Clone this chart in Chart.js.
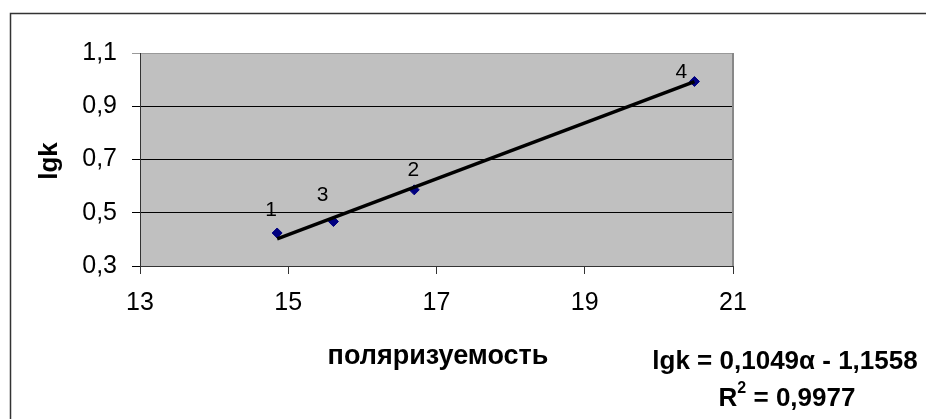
<!DOCTYPE html>
<html lang="ru">
  <head>
    <meta charset="UTF-8" />
    <title>lgk — поляризуемость</title>
    <script src="https://cdn.jsdelivr.net/npm/chart.js"></script>
    <style>
      html, body { margin: 0; padding: 0; background: #fff; }
      #wrap { width: 926px; height: 419px; }
    </style>
  </head>
  <body>
    <div id="wrap"><canvas id="chart" width="926" height="419"></canvas></div>

    <script>
      // данные
      const pointLabels = ["1", "2", "3", "4"];
      const polarizability = [14.85, 16.70, 15.61, 20.48];
      const lgk = [0.424, 0.586, 0.467, 0.993];
      const xTicks = [13, 15, 17, 19, 21];
      const yTicks = [0.3, 0.5, 0.7, 0.9, 1.1];

      // линия тренда: lgk = 0,1049α - 1,1558
      const slope = 0.1049;
      const intercept = -1.1558;
      const equationText = "lgk = 0,1049α - 1,1558";
      const r2Text = "0,9977";

      const FONT = "'Liberation Sans', Arial, sans-serif";

      const xMin = Math.min(...polarizability);
      const xMax = Math.max(...polarizability);
      const trend = [xMin, xMax].map((x) => ({ x: x, y: slope * x + intercept }));
      const points = polarizability.map((x, i) => ({ x: x, y: lgk[i] }));

      const comma = (v) => String(v).replace(".", ",");

      // фон, рамка, подписи точек и тексты
      const decor = {
        id: "decor",
        beforeDraw(chart) {
          const { ctx, chartArea: a } = chart;
          ctx.save();
          ctx.fillStyle = "#fff";
          ctx.fillRect(0, 0, chart.width, chart.height);
          ctx.strokeStyle = "#333";
          ctx.lineWidth = 1.5;
          ctx.strokeRect(10.5, 13.5, chart.width + 10, chart.height + 10);
          ctx.fillStyle = "#c0c0c0";
          ctx.fillRect(a.left, a.top, a.right - a.left, a.bottom - a.top);
          ctx.restore();
        },
        afterDatasetsDraw(chart) {
          const { ctx, chartArea: a } = chart;
          const xs = chart.scales.x, ys = chart.scales.y;
          ctx.save();
          // правая граница области построения
          ctx.strokeStyle = "#888";
          ctx.lineWidth = 2;
          ctx.beginPath();
          ctx.moveTo(a.right, a.top);
          ctx.lineTo(a.right, a.bottom);
          ctx.stroke();

          // номера точек
          const offsets = [[-6, -23], [-1, -20], [-11, -26], [-13, -9]];
          ctx.fillStyle = "#000";
          ctx.font = "21px " + FONT;
          ctx.textAlign = "center";
          ctx.textBaseline = "middle";
          pointLabels.forEach((t, i) => {
            const px = xs.getPixelForValue(polarizability[i]);
            const py = ys.getPixelForValue(lgk[i]);
            ctx.fillText(t, px + offsets[i][0], py + offsets[i][1]);
          });

          // подписи осей
          ctx.font = "bold 26px " + FONT;
          ctx.save();
          ctx.translate(50, 161);
          ctx.rotate(-Math.PI / 2);
          ctx.fillText("lgk", 0, 0);
          ctx.restore();
          ctx.font = "bold 27px " + FONT;
          ctx.fillText("поляризуемость", 438, 357);

          // уравнение тренда
          ctx.font = "bold 26px " + FONT;
          ctx.textBaseline = "alphabetic";
          ctx.fillText(equationText, 785, 369);

          const big = "bold 26px " + FONT, small = "bold 16px " + FONT;
          ctx.font = big;
          const wR = ctx.measureText("R").width;
          const rest = " = " + r2Text;
          const wRest = ctx.measureText(rest).width;
          ctx.font = small;
          const w2 = ctx.measureText("2").width;
          let x = 787 - (wR + w2 + wRest) / 2;
          ctx.textAlign = "left";
          ctx.font = big;
          ctx.fillText("R", x, 406);
          x += wR;
          ctx.font = small;
          ctx.fillText("2", x, 393);
          x += w2;
          ctx.font = big;
          ctx.fillText(rest, x, 406);
          ctx.restore();
        },
      };

      new Chart(document.getElementById("chart"), {
        type: "scatter",
        data: {
          datasets: [
            {
              type: "line",
              label: "тренд",
              data: trend,
              borderColor: "#000",
              borderWidth: 3.5,
              pointRadius: 0,
              fill: false,
              order: 0,
            },
            {
              label: "lgk",
              data: points,
              pointStyle: "rectRot",
              pointRadius: 5,
              pointBackgroundColor: "#000080",
              pointBorderColor: "#000080",
              pointBorderWidth: 1,
              order: 1,
            },
          ],
        },
        options: {
          responsive: false,
          animation: false,
          layout: { padding: { left: 0, top: 53, right: 193, bottom: 0 } },
          plugins: { legend: { display: false }, tooltip: { enabled: false } },
          scales: {
            x: {
              type: "linear",
              min: xTicks[0],
              max: xTicks[xTicks.length - 1],
              afterBuildTicks(s) { s.ticks = xTicks.map((v) => ({ value: v })); },
              afterFit(s) { s.height = 153; },
              ticks: { color: "#000", font: { family: FONT, size: 25 }, padding: 14 },
              grid: { drawOnChartArea: false, tickLength: 8, color: "#333" },
              border: { color: "#333", width: 1 },
            },
            y: {
              min: yTicks[0],
              max: yTicks[yTicks.length - 1],
              afterBuildTicks(s) { s.ticks = yTicks.map((v) => ({ value: v })); },
              afterFit(s) { s.width = 140; },
              ticks: {
                color: "#000",
                font: { family: FONT, size: 25 },
                padding: 15,
                callback: (v) => comma(Number(v).toFixed(1)),
              },
              grid: {
                tickLength: 8,
                color: (c) => (c.tick && c.tick.value === yTicks[yTicks.length - 1] ? "#999" : "#000"),
              },
              border: { color: "#333", width: 1 },
            },
          },
        },
        plugins: [decor],
      });
    </script>
  </body>
</html>
